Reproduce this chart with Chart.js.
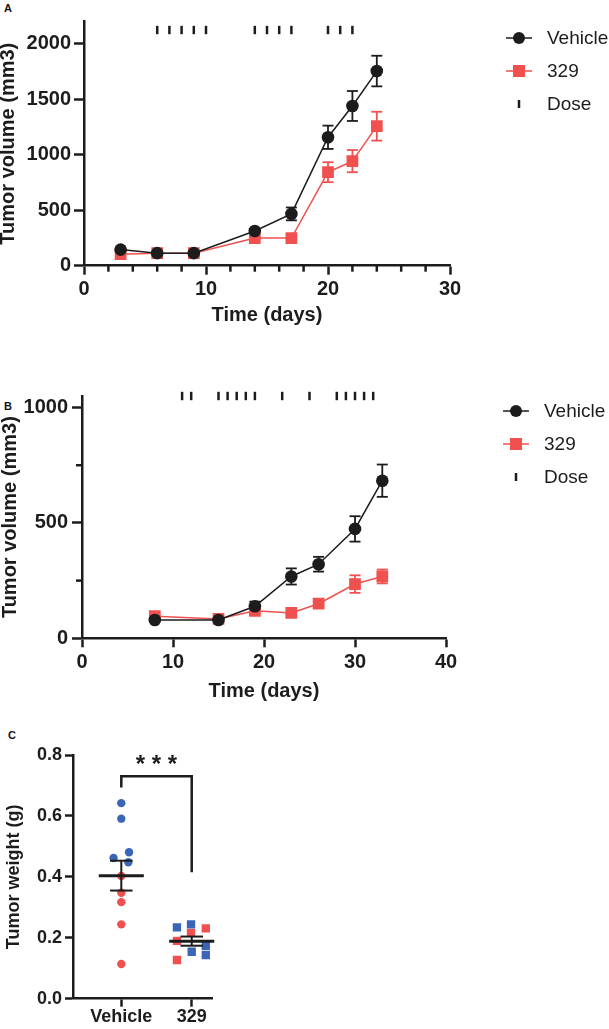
<!DOCTYPE html>
<html>
<head>
<meta charset="utf-8">
<script src="https://cdn.jsdelivr.net/npm/chart.js@4.4.1/dist/chart.umd.min.js"></script>
<style>
  body { margin: 0; background: #fff; }
  #page { position: relative; width: 609px; height: 1029px; overflow: hidden; font-family: "Liberation Sans", Arial, sans-serif; }
  canvas { position: absolute; left: 0; }
  .tag { position: absolute; font-weight: bold; font-size: 11px; color: #111; }
</style>
</head>
<body>
<div id="page">
  <div class="tag" style="left:4px;top:2px">A</div>
  <canvas id="chartA" width="609" height="340" style="top:0"></canvas>
  <div class="tag" style="left:4px;top:400px">B</div>
  <canvas id="chartB" width="609" height="340" style="top:380px"></canvas>
  <div class="tag" style="left:8px;top:729px">C</div>
  <canvas id="chartC" width="260" height="299" style="top:730px"></canvas>
</div>
<script>
const FONT = '"Liberation Sans", Arial, sans-serif';
const INK = '#1c1c1c';
const RED = '#f0514f';
const BLUE = '#3b66b6';

// panel A
const daysA = [3, 6, 9, 14, 17, 20, 22, 24];
const vehicleA = [145, 113, 113, 313, 467, 1158, 1440, 1755];
const vehicleAErr = [12, 8, 8, 20, 58, 105, 135, 138];
const drugA = [104, 113, 113, 249, 249, 843, 943, 1258];
const drugAErr = [8, 8, 8, 12, 12, 90, 100, 130];
const doseDaysA = [6, 7, 8, 9, 10, 14, 15, 16, 17, 20, 21, 22];
const doseLevelA = 2125;
const yTicksA = [0, 500, 1000, 1500, 2000];
const xTicksA = [0, 10, 20, 30];

// panel B
const daysB = [8, 15, 19, 23, 26, 30, 33];
const vehicleB = [79, 79, 139, 268, 321, 474, 683];
const vehicleBErr = [6, 6, 20, 35, 32, 55, 70];
const drugB = [96, 84, 119, 110, 150, 235, 268];
const drugBErr = [6, 6, 8, 8, 10, 38, 30];
const doseDaysB = [11, 12, 15, 16, 17, 18, 19, 22, 25, 28, 29, 30, 31, 32];
const doseLevelB = 1050;
const yTicksB = [0, 500, 1000];
const xTicksB = [0, 10, 20, 30, 40];

// panel C
const groups = ['Vehicle', '329'];
const vehicleBlue = [0.642, 0.591, 0.481, 0.462, 0.448];
const vehicleBlueJitter = [0, 0, 0.11, -0.11, 0.10];
const vehicleRed = [0.403, 0.348, 0.317, 0.244, 0.114];
const vehicleRedJitter = [0, 0, 0, 0, 0];
const drugBlue = [0.234, 0.244, 0.154, 0.173, 0.143];
const drugBlueJitter = [-0.21, -0.01, 0, 0.2, 0.2];
const drugRed = [0.190, 0.216, 0.231, 0.127];
const drugRedJitter = [-0.21, -0.01, 0.2, -0.21];
const groupMean = [0.404, 0.189];
const groupSem = [0.049, 0.015];
const yTicksC = [0, 0.2, 0.4, 0.6, 0.8];

const pts = (xs, ys) => xs.map((x, i) => ({ x: x, y: ys[i] }));

function line(ctx, x1, y1, x2, y2) {
  ctx.beginPath();
  ctx.moveTo(x1, y1);
  ctx.lineTo(x2, y2);
  ctx.stroke();
}

const errorBars = {
  id: 'errorBars',
  beforeDatasetsDraw(chart) {
    const { ctx, scales: { x, y } } = chart;
    const sets = chart.data.datasets;
    ctx.save();
    for (let k = sets.length - 1; k >= 0; k--) {
      const ds = sets[k];
      if (!ds.errors) continue;
      ctx.strokeStyle = ds.borderColor;
      ctx.lineWidth = 1.8;
      ds.data.forEach((p, i) => {
        const e = ds.errors[i];
        const px = x.getPixelForValue(p.x);
        const top = y.getPixelForValue(p.y + e);
        const bot = y.getPixelForValue(p.y - e);
        line(ctx, px, top, px, bot);
        line(ctx, px - 5.5, top, px + 5.5, top);
        line(ctx, px - 5.5, bot, px + 5.5, bot);
      });
    }
    ctx.restore();
  }
};

const minorTicks = {
  id: 'minorTicks',
  afterDraw(chart, args, opts) {
    const { ctx, chartArea: a, scales: { x, y } } = chart;
    ctx.save();
    ctx.strokeStyle = INK;
    ctx.lineWidth = 2.5;
    (opts.x || []).forEach(v => {
      const px = x.getPixelForValue(v);
      line(ctx, px, a.bottom, px, a.bottom + opts.len);
    });
    (opts.y || []).forEach(v => {
      const py = y.getPixelForValue(v);
      line(ctx, a.left, py, a.left - opts.len, py);
    });
    ctx.restore();
  }
};

const sideLegend = {
  id: 'sideLegend',
  afterDraw(chart, args, opts) {
    if (!opts.top) return;
    const ctx = chart.ctx;
    ctx.save();
    ctx.font = '19px ' + FONT;
    ctx.textBaseline = 'middle';
    chart.data.datasets.forEach((ds, i) => {
      const y = opts.top + i * opts.gap;
      const cx = opts.x;
      ctx.strokeStyle = ds.borderColor;
      ctx.fillStyle = ds.borderColor;
      if (ds.pointStyle === 'line') {
        ctx.lineWidth = 2.5;
        line(ctx, cx, y - 4, cx, y + 4);
      } else {
        ctx.lineWidth = ds.borderWidth;
        line(ctx, cx - 13, y, cx + 13, y);
        if (ds.pointStyle === 'rect') {
          ctx.fillRect(cx - 6, y - 6, 12, 12);
        } else {
          ctx.beginPath();
          ctx.arc(cx, y, 6, 0, Math.PI * 2);
          ctx.fill();
        }
      }
      ctx.fillStyle = INK;
      ctx.fillText(ds.label, opts.textX, y + 1);
    });
    ctx.restore();
  }
};

function timeChart(id, cfg) {
  const datasets = [
    {
      label: 'Vehicle', data: pts(cfg.days, cfg.vehicle), errors: cfg.vehicleErr,
      showLine: true, borderColor: INK, borderWidth: 1.5,
      pointStyle: 'circle', pointRadius: 6.3, pointBackgroundColor: INK, pointBorderColor: INK, pointBorderWidth: 0
    },
    {
      label: '329', data: pts(cfg.days, cfg.drug), errors: cfg.drugErr,
      showLine: true, borderColor: RED, borderWidth: 1.5,
      pointStyle: 'rect', pointRadius: 8.3, pointBackgroundColor: RED, pointBorderColor: RED, pointBorderWidth: 0
    },
    {
      label: 'Dose', data: cfg.doseDays.map(d => ({ x: d, y: cfg.doseLevel })),
      showLine: false, borderColor: INK, clip: false,
      pointStyle: 'line', rotation: 90, pointRadius: 4.2, pointBorderColor: INK, pointBorderWidth: 2.5
    }
  ];
  return new Chart(document.getElementById(id), {
    type: 'scatter',
    data: { datasets },
    options: {
      responsive: false, animation: false, events: [],
      layout: { padding: { left: 0, top: cfg.area.top, right: 609 - cfg.area.right, bottom: 0 } },
      plugins: {
        legend: { display: false }, tooltip: { enabled: false },
        minorTicks: { x: cfg.minorX, y: cfg.minorY, len: 6 },
        sideLegend: cfg.legend
      },
      scales: {
        x: {
          type: 'linear', min: cfg.xMax[0], max: cfg.xMax[1],
          afterBuildTicks: s => { s.ticks = cfg.xTicks.map(v => ({ value: v })); },
          afterFit: s => { s.height = 340 - cfg.area.bottom; },
          border: { color: INK, width: 2.5 },
          grid: { drawOnChartArea: false, drawTicks: true, tickLength: 9, tickWidth: 2.5, tickColor: INK, color: INK },
          ticks: { color: INK, padding: 3, maxRotation: 0, autoSkip: false, callback: v => String(v), font: { family: FONT, size: 20, weight: 'bold' } },
          title: { display: true, text: 'Time (days)', color: INK, padding: { top: 0, bottom: cfg.xTitlePad }, font: { family: FONT, size: 20, weight: 'bold', lineHeight: 1.2 } }
        },
        y: {
          min: 0, max: cfg.yMax,
          afterBuildTicks: s => { s.ticks = cfg.yTicks.map(v => ({ value: v })); },
          afterFit: s => { s.width = cfg.area.left; },
          border: { color: INK, width: 2.5 },
          grid: { drawOnChartArea: false, drawTicks: true, tickLength: 10, tickWidth: 2.5, tickColor: INK, color: INK },
          ticks: { color: INK, padding: cfg.yTickPad, callback: v => String(v), font: { family: FONT, size: 20, weight: 'bold' } },
          title: { display: true, text: 'Tumor volume (mm3)', color: INK, padding: 0, font: { family: FONT, size: 20, weight: 'bold', lineHeight: cfg.yTitleLH } }
        }
      }
    },
    plugins: [errorBars, minorTicks, sideLegend]
  });
}

timeChart('chartA', {
  days: daysA, vehicle: vehicleA, vehicleErr: vehicleAErr, drug: drugA, drugErr: drugAErr,
  doseDays: doseDaysA, doseLevel: doseLevelA,
  area: { left: 84, right: 450, top: 21.7, bottom: 265.7 },
  xMax: [0, 30], yMax: 2200, xTicks: xTicksA, yTicks: yTicksA,
  minorX: [2, 4, 6, 8, 12, 14, 16, 18, 22, 24, 26, 28], minorY: [],
  xTitlePad: 13, yTickPad: 3, yTitleLH: 0.85,
  legend: { x: 519, textX: 547, top: 38, gap: 33 }
});

timeChart('chartB', {
  days: daysB, vehicle: vehicleB, vehicleErr: vehicleBErr, drug: drugB, drugErr: drugBErr,
  doseDays: doseDaysB, doseLevel: doseLevelB,
  area: { left: 82, right: 446, top: 14, bottom: 258.3 },
  xMax: [0, 40], yMax: 1050, xTicks: xTicksB, yTicks: yTicksB,
  minorX: [], minorY: [250, 750],
  xTitlePad: 16.5, yTickPad: 4, yTitleLH: 1.08,
  legend: { x: 516, textX: 544, top: 31, gap: 33 }
});

// panel C: scatter with mean +/- SEM and significance bracket
const summary = {
  id: 'summary',
  afterDatasetsDraw(chart) {
    const { ctx, scales: { x, y } } = chart;
    ctx.save();
    ctx.strokeStyle = INK;
    groupMean.forEach((m, i) => {
      const c = i + 1;
      ctx.lineWidth = 3;
      line(ctx, x.getPixelForValue(c - 0.32), y.getPixelForValue(m), x.getPixelForValue(c + 0.32), y.getPixelForValue(m));
      ctx.lineWidth = 2;
      const top = y.getPixelForValue(m + groupSem[i]);
      const bot = y.getPixelForValue(m - groupSem[i]);
      const px = x.getPixelForValue(c);
      line(ctx, px, top, px, bot);
      line(ctx, x.getPixelForValue(c - 0.16), top, x.getPixelForValue(c + 0.16), top);
      line(ctx, x.getPixelForValue(c - 0.16), bot, x.getPixelForValue(c + 0.16), bot);
    });
    // bracket
    ctx.lineWidth = 2.5;
    const x1 = x.getPixelForValue(1), x2 = x.getPixelForValue(2);
    const yTop = y.getPixelForValue(0.73);
    ctx.beginPath();
    ctx.moveTo(x1, y.getPixelForValue(0.693));
    ctx.lineTo(x1, yTop);
    ctx.lineTo(x2, yTop);
    ctx.lineTo(x2, y.getPixelForValue(0.415));
    ctx.stroke();
    ctx.fillStyle = INK;
    ctx.font = 'bold 24px ' + FONT;
    ctx.textAlign = 'center';
    ctx.textBaseline = 'alphabetic';
    ctx.fillText('* * *', (x1 + x2) / 2, y.getPixelForValue(0.787) + 13);
    ctx.restore();
  }
};

const dots = (vals, jit, color, style, r) => ({
  data: vals.map((v, i) => ({ x: 1 + jit[i], y: v })),
  pointStyle: style, pointRadius: r, pointBackgroundColor: color, pointBorderWidth: 0, showLine: false
});
const dotsB = (vals, jit, color, style, r) => ({
  data: vals.map((v, i) => ({ x: 2 + jit[i], y: v })),
  pointStyle: style, pointRadius: r, pointBackgroundColor: color, pointBorderWidth: 0, showLine: false
});

new Chart(document.getElementById('chartC'), {
  type: 'scatter',
  data: {
    datasets: [
      dots(vehicleBlue, vehicleBlueJitter, BLUE, 'circle', 4.2),
      dots(vehicleRed, vehicleRedJitter, RED, 'circle', 4.2),
      dotsB(drugBlue, drugBlueJitter, BLUE, 'rect', 5.9),
      dotsB(drugRed, drugRedJitter, RED, 'rect', 5.9)
    ]
  },
  options: {
    responsive: false, animation: false, events: [],
    layout: { padding: { left: 0, top: 25, right: 48, bottom: 0 } },
    plugins: { legend: { display: false }, tooltip: { enabled: false } },
    scales: {
      x: {
        type: 'linear', min: 0.314, max: 2.288,
        afterBuildTicks: s => { s.ticks = groups.map((g, i) => ({ value: i + 1 })); },
        afterFit: s => { s.height = 30.3; },
        border: { color: INK, width: 2.5 },
        grid: { drawOnChartArea: false, drawTicks: true, tickLength: 8, tickWidth: 2.5, tickColor: INK, color: INK },
        ticks: { color: INK, padding: 0, maxRotation: 0, autoSkip: false, callback: (v, i) => groups[i], font: { family: FONT, size: 18, weight: 'bold' } }
      },
      y: {
        min: 0, max: 0.8,
        afterBuildTicks: s => { s.ticks = yTicksC.map(v => ({ value: v })); },
        afterFit: s => { s.width = 73; },
        border: { color: INK, width: 2.5 },
        grid: { drawOnChartArea: false, drawTicks: true, tickLength: 8, tickWidth: 2.5, tickColor: INK, color: INK },
        ticks: { color: INK, padding: 3, callback: v => v.toFixed(1), font: { family: FONT, size: 18, weight: 'bold' } },
        title: { display: true, text: 'Tumor weight (g)', color: INK, padding: { top: 3.2, bottom: 0 }, font: { family: FONT, size: 18, weight: 'bold', lineHeight: 1.2 } }
      }
    }
  },
  plugins: [summary]
});
</script>
</body>
</html>
